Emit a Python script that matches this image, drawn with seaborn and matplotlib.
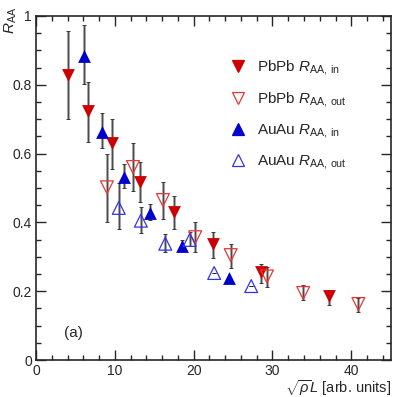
#!/usr/bin/env python3
import numpy as np
import pandas as pd
import matplotlib
matplotlib.use("Agg")
import matplotlib.pyplot as plt
from matplotlib.lines import Line2D
from matplotlib.ticker import MultipleLocator
import seaborn as sns

# ----- data -----
pbpb_in_x   = [4.1, 6.6, 9.6, 13.2, 17.5, 22.5, 28.6, 37.2]
pbpb_in_y   = [0.828, 0.724, 0.630, 0.518, 0.431, 0.337, 0.256, 0.186]
pbpb_in_lo  = [0.700, 0.634, 0.555, 0.460, 0.381, 0.296, 0.223, 0.160]
pbpb_in_hi  = [0.956, 0.808, 0.700, 0.575, 0.477, 0.372, 0.280, 0.203]

pbpb_out_x  = [9.0, 12.3, 16.1, 20.2, 24.7, 29.3, 33.9, 40.9]
pbpb_out_y  = [0.502, 0.561, 0.465, 0.357, 0.305, 0.243, 0.195, 0.163]
pbpb_out_lo = [0.400, 0.490, 0.410, 0.314, 0.267, 0.212, 0.174, 0.140]
pbpb_out_hi = [0.600, 0.630, 0.517, 0.400, 0.337, 0.270, 0.218, 0.180]

auau_in_x   = [6.1, 8.4, 11.2, 14.5, 18.5, 24.5]
auau_in_y   = [0.884, 0.663, 0.532, 0.427, 0.331, 0.238]
auau_in_lo  = [0.802, 0.616, 0.500, 0.407, 0.320, 0.238]
auau_in_hi  = [0.974, 0.718, 0.570, 0.453, 0.350, 0.238]

auau_out_x  = [10.5, 13.3, 16.4, 19.5, 22.6, 27.3]
auau_out_y  = [0.442, 0.405, 0.338, 0.349, 0.253, 0.215]
auau_out_lo = [0.380, 0.370, 0.314, 0.330, 0.253, 0.215]
auau_out_hi = [0.515, 0.445, 0.366, 0.372, 0.253, 0.215]

RED, RED_OPEN = "#cc0000", "#ee3333"
BLUE, BLUE_OPEN = "#0000cc", "#3333ee"

series = [
    ("PbPb $R_{\\mathrm{AA,\\,in}}$", pbpb_in_x, pbpb_in_y, pbpb_in_lo, pbpb_in_hi, "v", RED, True),
    ("PbPb $R_{\\mathrm{AA,\\,out}}$", pbpb_out_x, pbpb_out_y, pbpb_out_lo, pbpb_out_hi, "v", RED_OPEN, False),
    ("AuAu $R_{\\mathrm{AA,\\,in}}$", auau_in_x, auau_in_y, auau_in_lo, auau_in_hi, "^", BLUE, True),
    ("AuAu $R_{\\mathrm{AA,\\,out}}$", auau_out_x, auau_out_y, auau_out_lo, auau_out_hi, "^", BLUE_OPEN, False),
]

sns.set_theme(style="ticks")
plt.rcParams["font.family"] = ["Liberation Sans", "DejaVu Sans"]
plt.rcParams["mathtext.fontset"] = "custom"
plt.rcParams["mathtext.rm"] = "Liberation Sans"
plt.rcParams["mathtext.it"] = "Liberation Sans:italic"

fig = plt.figure(figsize=(4.07, 3.97), dpi=100)
ax = fig.add_axes([0.0885, 0.093, 0.8715, 0.867])

handles = []
for label, x, y, lo, hi, mk, col, filled in series:
    df = pd.DataFrame({"x": x, "y": y, "lo": lo, "hi": hi})
    # error bars: grey band + thin black line with caps
    ax.vlines(df["x"], df["lo"], df["hi"], color="#a8a8a8", lw=2.2, zorder=1)
    ax.errorbar(df["x"], df["y"], yerr=[df["y"] - df["lo"], df["hi"] - df["y"]],
                fmt="none", ecolor="#222222", elinewidth=0.5, capsize=1.2,
                capthick=0.6, zorder=2)
    sns.scatterplot(data=df, x="x", y="y", marker=mk, s=85, ax=ax,
                    color=col if filled else "none",
                    edgecolor=col, linewidth=0 if filled else 0.9,
                    zorder=3, legend=False)
    handles.append(Line2D([], [], ls="none", marker=mk, markersize=9,
                          markerfacecolor=col if filled else "none",
                          markeredgecolor=col, markeredgewidth=0.9,
                          label=label))

ax.set_xlim(0, 45)
ax.set_ylim(0, 1)
ax.xaxis.set_major_locator(MultipleLocator(10))
ax.xaxis.set_minor_locator(MultipleLocator(2))
ax.yaxis.set_minor_locator(MultipleLocator(0.05))
ax.set_yticks([0, 0.2, 0.4, 0.6, 0.8, 1.0])
ax.set_yticklabels(["0", "0.2", "0.4", "0.6", "0.8", "1"])
ax.tick_params(which="both", direction="in", top=True, right=True,
               labelsize=10, width=1, pad=3)
ax.tick_params(which="major", length=7)
ax.tick_params(which="minor", length=3.5)
for sp in ax.spines.values():
    sp.set_linewidth(1.2)

ax.set_xlabel(r"$\sqrt{\rho}\mathit{L}$ [arb. units]", fontsize=10.5, ha="right",
              va="center")
ax.xaxis.set_label_coords(1.0, -0.082)
ax.set_ylabel(r"$\mathit{R}_{\mathrm{AA}}$", fontsize=11, ha="right",
              va="center")
ax.yaxis.set_label_coords(-0.072, 1.025)

ax.text(3.6, 0.078, "(a)", fontsize=11, va="center")

ax.legend(handles=handles, loc="upper left", frameon=False, fontsize=11,
          labelspacing=0.85, handletextpad=0.25, borderaxespad=0,
          bbox_to_anchor=(0.51, 0.895))

fig.savefig("out.png", dpi=100)
